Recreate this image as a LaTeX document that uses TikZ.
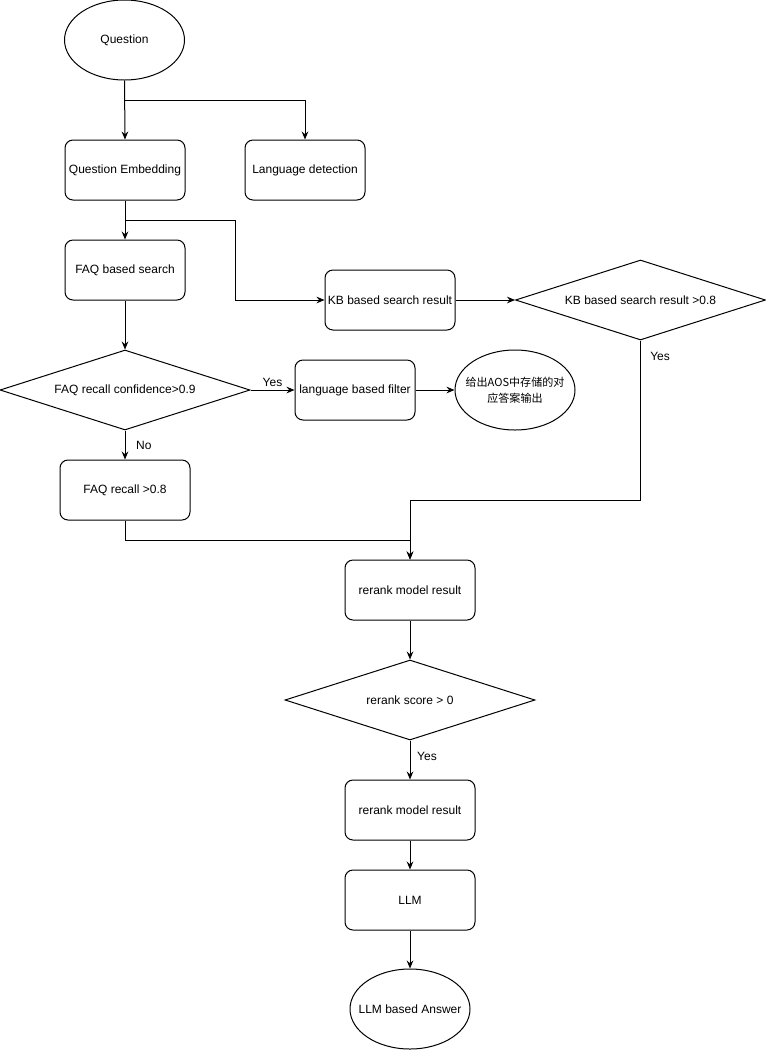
\documentclass[tikz,border=0pt]{standalone}
\usepackage{fontspec}
\setmainfont{Liberation Sans}
\newfontfamily\cjkfont{Noto Sans CJK SC}
\usetikzlibrary{arrows.meta,positioning,shapes.geometric}

\begin{document}
\begin{tikzpicture}[x=0.75pt,y=-0.75pt,
  flowbox/.style={draw,rounded corners=6pt,minimum width=90pt,minimum height=45pt,
    align=center,font=\fontsize{9}{11}\selectfont,line width=0.75pt,inner sep=2pt},
  flowdec/.style={draw,diamond,shape aspect=3.1,minimum width=187.5pt,minimum height=60pt,
    align=center,font=\fontsize{9}{11}\selectfont,line width=0.75pt,inner sep=0pt},
  flowend/.style={draw,ellipse,minimum width=90pt,minimum height=60pt,align=center,
    font=\fontsize{9}{11}\selectfont,line width=0.75pt,inner xsep=-10pt,inner ysep=0pt},
  flowarr/.style={-{Stealth[length=6pt,width=5pt,inset=2pt]},line width=0.75pt},
  flowlbl/.style={font=\fontsize{9}{11}\selectfont,inner sep=2pt}
]
  \useasboundingbox (0,0) rectangle (766,1051);
  % Entry and first split
  \node[flowend] (question) at (124.5,40) {Question};
  \node[flowbox] (qemb) at (125,170) {Question Embedding};
  \node[flowbox] (langdet) at (305,170) {Language detection};
  \coordinate (qsplit) at (125,100);
  \draw[flowarr] (question.south) -- (qemb.north);
  \draw[flowarr] (qsplit) -| (langdet.north);
  % FAQ branch and KB branch
  \node[flowbox] (faqsearch) at (125,270) {FAQ based search};
  \node[flowbox,minimum width=97.5pt] (kbres) at (390,300) {KB based search result};
  \node[flowdec] (kbdec) at (640.5,300) {KB based search result >0.8};
  \coordinate (esplit) at (125,220);
  \draw[flowarr] (qemb.south) -- (faqsearch.north);
  \draw[flowarr] (esplit) -- ++(110,0) |- (kbres.west);
  \draw[flowarr] (kbres.east) -- (kbdec.west);
  % FAQ confidence check
  \node[flowdec] (faqdec) at (125,390) {FAQ recall confidence>0.9};
  \node[flowbox] (langfilt) at (355,390) {language based filter};
  \node[flowend,font=\cjkfont\fontsize{8.3}{12}\selectfont] (aosans) at (515,390)
    {给出AOS中存储的对\\应答案输出};
  \node[flowbox,minimum width=97.5pt] (faqrecall) at (125,490) {FAQ recall >0.8};
  \draw[flowarr] (faqsearch.south) -- (faqdec.north);
  \draw[flowarr] (faqdec.east) -- node[flowlbl,midway,above] {Yes} (langfilt.west);
  \draw[flowarr] (langfilt.east) -- (aosans.west);
  \draw[flowarr] (faqdec.south) -- node[flowlbl,pos=0.5,right,xshift=6pt] {No} (faqrecall.north);
  % Rerank stage
  \node[flowbox,minimum width=97.5pt] (rerank) at (410,590) {rerank model result};
  \node[flowdec] (rerankdec) at (410,700) {rerank score > 0};
  \node[flowbox,minimum width=97.5pt] (rerankb) at (410,810) {rerank model result};
  \node[flowbox,minimum width=97.5pt] (llm) at (410,900) {LLM};
  \node[flowend] (answer) at (410,1009) {LLM based Answer};
  \draw[flowarr] (kbdec.south) -- node[flowlbl,pos=0.1,right,xshift=5pt] {Yes} ++(0,160) -| (rerank.north);
  \draw[flowarr] (faqrecall.south) -- ++(0,20) -| (rerank.north);
  \draw[flowarr] (rerank.south) -- (rerankdec.north);
  \draw[flowarr] (rerankdec.south) -- node[flowlbl,pos=0.4,right,xshift=3pt] {Yes} (rerankb.north);
  \draw[flowarr] (rerankb.south) -- (llm.north);
  \draw[flowarr] (llm.south) -- (answer.north);
\end{tikzpicture}
\end{document}
